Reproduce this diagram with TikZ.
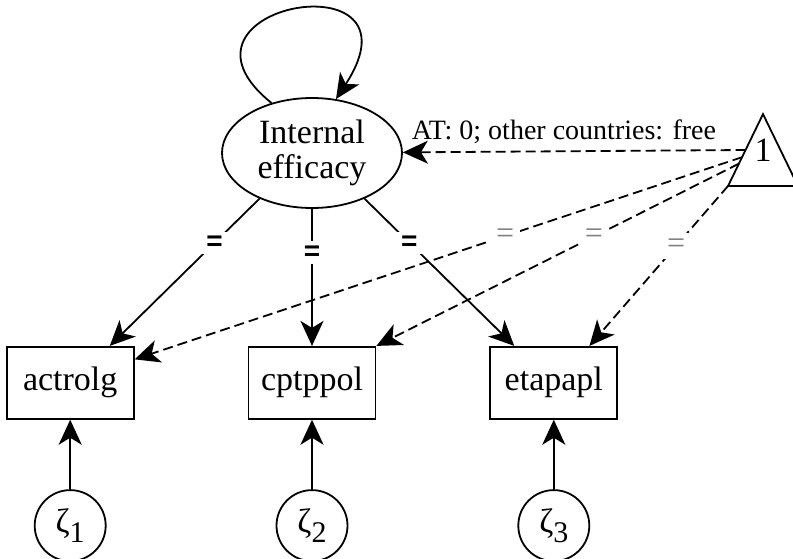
\documentclass[tikz,border=0pt]{standalone}
\usepackage{fontspec}
\setmainfont{Liberation Serif}
\newfontfamily\eqfont{Liberation Sans}
\usepackage{tikz}
\usetikzlibrary{positioning}
\usetikzlibrary{shapes,arrows.meta,calc}
\tikzstyle{latent} = [draw, ellipse, minimum width=90pt, minimum height=55pt,
                align=center, inner sep=0pt]
\tikzstyle{manifest} = [draw, rectangle, minimum width=63.5pt, minimum height=36pt]
\tikzstyle{resid} = [draw, circle, minimum size=35.5pt, inner sep=0pt]
\tikzstyle{constant} = [rectangle, minimum width=34pt, minimum height=35pt, inner sep=0pt]
\tikzstyle{line} = [draw, -{Stealth[length=12.5pt, width=11.5pt, inset=3.5pt]}]
\tikzstyle{fixline} = [line, dash pattern=on 5pt off 2.5pt]
\tikzstyle{eqbold} = [fill=white, font=\eqfont\bfseries\fontsize{14}{14}\selectfont, inner sep=2pt]
\tikzstyle{eqgray} = [fill=white, text=gray, font=\fontsize{16}{16}\selectfont, inner sep=3pt]
% residual label with a lowered index
\newcommand{\zetasub}[1]{ζ\raisebox{-5pt}{\fontsize{15}{15}\selectfont #1}}

\begin{document}
\begin{tikzpicture}[x=0.5pt, y=-0.5pt, font=\fontsize{17}{17.5}\selectfont, line width=0.9pt]
    \useasboundingbox (0,0) rectangle (793,558);
    \node[latent] (ie) at (312,153) {Internal\\efficacy};
    \node[manifest, below=68.5pt of ie] (cptppol) {cptppol};
    \node[manifest, left=56.5pt of cptppol] (actrolg) {actrolg};
    \node[manifest, right=56.5pt of cptppol] (etapapl) {etapapl};
    \node[resid, below=34.75pt of actrolg] (z1) {\zetasub{1}};
    \node[resid, below=34.75pt of cptppol] (z2) {\zetasub{2}};
    \node[resid, below=34.75pt of etapapl] (z3) {\zetasub{3}};
    \node[constant] (one) at (763,150) {1};
    \draw (one.south west) -- (one.north) -- (one.south east) -- cycle;
    % variance of the factor
    \draw[line] (ie.129) .. controls (150,5) and (430,-45) .. (ie.66);
    % loadings
    \draw[line] (ie.221) -- node[eqbold, pos=0.3]{=} (actrolg.43);
    \draw[line] (ie) -- node[eqbold, pos=0.32]{=} (cptppol);
    \draw[line] (ie.319) -- node[eqbold, pos=0.3]{=} (etapapl.137);
    % means and intercepts
    \draw[fixline] ($(one.north)!0.5!(one.south west)$) -- node[above, pos=0.53, font=\fontsize{14}{16}\selectfont]{AT: 0; other countries: free} (ie);
    \draw[fixline] ($(one.north)!0.6!(one.south west)$) -- node[eqgray, pos=0.39]{=} (actrolg.20);
    \draw[fixline] ($(one.north)!0.69!(one.south west)$) -- node[eqgray, pos=0.4]{=} (cptppol.north east);
    \draw[fixline] (one.south west) -- node[eqgray, pos=0.375]{=} (etapapl.46);
    % residuals
    \draw[line] (z1) -- (actrolg);
    \draw[line] (z2) -- (cptppol);
    \draw[line] (z3) -- (etapapl);
\end{tikzpicture}
\end{document}
